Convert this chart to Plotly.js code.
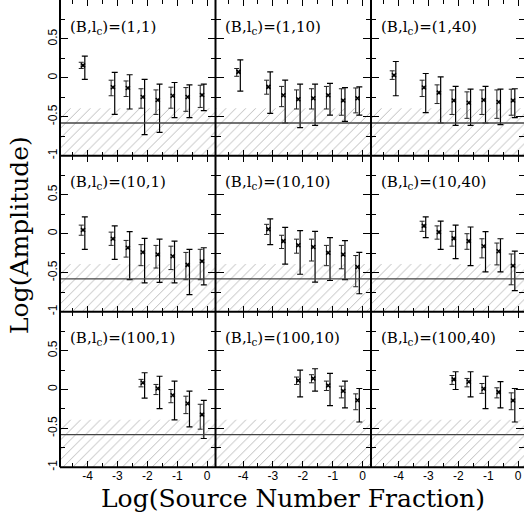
<!DOCTYPE html>
<html>
<head>
<meta charset="utf-8">
<script src="https://cdn.plot.ly/plotly-3.0.1.min.js"></script>
<style>
  html, body { margin: 0; padding: 0; background: #fff; }
  #chart { width: 524px; height: 527px; }
</style>
</head>
<body>
<div id="chart"></div>
<script>
// Log of the source-number fraction at which each amplitude was measured
const fracX = [-4.15, -3.15, -2.65, -2.15, -1.65, -1.15, -0.65, -0.17];

// Panel parameters (B, l_c), row by row
const bValues = [1, 10, 100];
const lcValues = [1, 10, 40];

// Detection floor: hatched band and the noise level line
const floorBand = [-1, -0.39];
const noiseLevel = -0.58;

// ---- (B,lc) = (1,1)
const b1l1Amp     = [0.16, -0.12, -0.13, -0.245, -0.285, -0.23, -0.245, -0.22];
const b1l1InnerHi = [0.20, -0.03, -0.04, -0.14, -0.155, -0.12, -0.125, -0.095];
const b1l1InnerLo = [0.12, -0.23, -0.24, -0.39, -0.47, -0.39, -0.43, -0.38];
const b1l1OuterHi = [0.28, 0.07, 0.04, -0.02, -0.08, -0.06, -0.09, -0.08];
const b1l1OuterLo = [-0.02, -0.47, -0.40, -0.73, -0.70, -0.51, -0.51, -0.42];

// ---- (B,lc) = (1,10)
const b1l10Amp     = [0.077, -0.116, -0.224, -0.275, -0.262, -0.224, -0.29, -0.262];
const b1l10InnerHi = [0.12, -0.03, -0.11, -0.155, -0.14, -0.11, -0.14, -0.13];
const b1l10InnerLo = [0.02, -0.21, -0.37, -0.40, -0.40, -0.40, -0.48, -0.45];
const b1l10OuterHi = [0.23, 0.077, -0.03, -0.08, -0.08, -0.07, -0.125, -0.116];
const b1l10OuterLo = [-0.17, -0.456, -0.58, -0.64, -0.61, -0.48, -0.56, -0.48];

// ---- (B,lc) = (1,40)
const b1l40Amp     = [0.034, -0.125, -0.19, -0.29, -0.32, -0.285, -0.31, -0.29];
const b1l40InnerHi = [0.09, -0.03, -0.09, -0.155, -0.18, -0.155, -0.155, -0.146];
const b1l40InnerLo = [-0.02, -0.24, -0.33, -0.47, -0.52, -0.47, -0.52, -0.48];
const b1l40OuterHi = [0.21, 0.056, 0.013, -0.11, -0.146, -0.11, -0.146, -0.14];
const b1l40OuterLo = [-0.23, -0.447, -0.58, -0.61, -0.61, -0.58, -0.60, -0.51];

// ---- (B,lc) = (10,1)
const b10l1Amp     = [0.047, -0.065, -0.18, -0.237, -0.267, -0.29, -0.40, -0.353];
const b10l1InnerHi = [0.11, 0.02, -0.086, -0.14, -0.15, -0.16, -0.24, -0.20];
const b10l1InnerLo = [-0.02, -0.15, -0.30, -0.41, -0.44, -0.46, -0.59, -0.59];
const b10l1OuterHi = [0.215, 0.10, 0.026, -0.06, -0.07, -0.095, -0.20, -0.18];
const b10l1OuterLo = [-0.20, -0.33, -0.59, -0.63, -0.625, -0.63, -0.78, -0.655];

// ---- (B,lc) = (10,10)
const b10l10Amp     = [0.056, -0.095, -0.147, -0.17, -0.245, -0.267, -0.427];
const b10l10InnerHi = [0.12, -0.02, -0.07, -0.07, -0.15, -0.15, -0.28];
const b10l10InnerLo = [-0.01, -0.19, -0.25, -0.35, -0.41, -0.45, -0.68];
const b10l10OuterHi = [0.19, 0.08, 0.04, 0.03, -0.05, -0.09, -0.24];
const b10l10OuterLo = [-0.14, -0.39, -0.52, -0.62, -0.60, -0.59, -0.77];

// ---- (B,lc) = (10,40)
const b10l40Amp     = [0.10, 0.02, -0.06, -0.095, -0.16, -0.224, -0.41];
const b10l40InnerHi = [0.16, 0.10, 0.03, 0.0, -0.065, -0.12, -0.26];
const b10l40InnerLo = [0.03, -0.07, -0.16, -0.20, -0.31, -0.40, -0.655];
const b10l40OuterHi = [0.215, 0.16, 0.11, 0.086, 0.026, -0.065, -0.224];
const b10l40OuterLo = [-0.05, -0.20, -0.32, -0.41, -0.49, -0.49, -0.73];

// ---- (B,lc) = (100,1)
const b100l1Amp     = [0.086, 0.013, -0.073, -0.18, -0.323];
const b100l1InnerHi = [0.13, 0.065, 0.0, -0.086, -0.19];
const b100l1InnerLo = [0.034, -0.065, -0.17, -0.31, -0.51];
const b100l1OuterHi = [0.215, 0.17, 0.108, -0.02, -0.14];
const b100l1OuterLo = [-0.11, -0.245, -0.39, -0.48, -0.63];

// ---- (B,lc) = (100,10)
const b100l10Amp     = [0.116, 0.142, 0.052, -0.02, -0.138];
const b100l10InnerHi = [0.16, 0.19, 0.108, 0.043, -0.056];
const b100l10InnerLo = [0.065, 0.086, -0.013, -0.108, -0.26];
const b100l10OuterHi = [0.25, 0.267, 0.207, 0.108, 0.013];
const b100l10OuterLo = [-0.095, -0.02, -0.207, -0.237, -0.418];

// ---- (B,lc) = (100,40)
const b100l40Amp     = [0.13, 0.10, 0.009, -0.034, -0.142];
const b100l40InnerHi = [0.18, 0.142, 0.077, 0.022, -0.043];
const b100l40InnerLo = [0.065, 0.034, -0.05, -0.108, -0.26];
const b100l40OuterHi = [0.228, 0.228, 0.17, 0.10, 0.013];
const b100l40OuterLo = [0.0, -0.095, -0.245, -0.237, -0.418];

// Tick labels
const xTickVals = [-4, -3, -2, -1, 0];
const xTickText = ['-4', '-3', '-2', '-1', '0'];
const xMinorVals = [-4.5, -3.5, -2.5, -1.5, -0.5];
const yTickValsTop = [-1, -0.5, 0, 0.5, 1];
const yTickTextTop = ['-1', '-0.5', '0', '0.5', '1'];
const yTickVals = [-1, -0.5, 0, 0.5];
const yTickText = ['-1', '-0.5', '0', '0.5'];
const yMinorVals = [-0.75, -0.25, 0.25, 0.75];

const panels = [
  [b1l1Amp, b1l1InnerHi, b1l1InnerLo, b1l1OuterHi, b1l1OuterLo],
  [b1l10Amp, b1l10InnerHi, b1l10InnerLo, b1l10OuterHi, b1l10OuterLo],
  [b1l40Amp, b1l40InnerHi, b1l40InnerLo, b1l40OuterHi, b1l40OuterLo],
  [b10l1Amp, b10l1InnerHi, b10l1InnerLo, b10l1OuterHi, b10l1OuterLo],
  [b10l10Amp, b10l10InnerHi, b10l10InnerLo, b10l10OuterHi, b10l10OuterLo],
  [b10l40Amp, b10l40InnerHi, b10l40InnerLo, b10l40OuterHi, b10l40OuterLo],
  [b100l1Amp, b100l1InnerHi, b100l1InnerLo, b100l1OuterHi, b100l1OuterLo],
  [b100l10Amp, b100l10InnerHi, b100l10InnerLo, b100l10OuterHi, b100l10OuterLo],
  [b100l40Amp, b100l40InnerHi, b100l40InnerLo, b100l40OuterHi, b100l40OuterLo]
];

// Grid geometry in pixels of the 524x527 figure
const W = 524, H = 527;
const colPx = [[60, 215.5], [215.5, 371], [371, 524]];
const rowPx = [[0, 155.7], [155.7, 311.7], [311.7, 467.3]];
const pxPerUnit = 29.9;
const xLeft = -4.92;

const tickFont = { family: 'Liberation Sans, Arial, sans-serif', size: 12, color: '#000' };
const serif = 'DejaVu Serif, serif';
const barOffset = 0.06;
const frameWidth = 2;

const traces = [];
const layout = {
  width: W, height: H,
  margin: { l: 0, r: 0, t: 0, b: 0 },
  paper_bgcolor: '#fff', plot_bgcolor: 'rgba(0,0,0,0)',
  showlegend: false, hovermode: false,
  shapes: [], annotations: []
};

panels.forEach((p, i) => {
  const [amp, inHi, inLo, outHi, outLo] = p;
  const r = Math.floor(i / 3), c = i % 3;
  const s = i === 0 ? '' : String(i + 1);
  const xa = 'x' + s, ya = 'y' + s;
  const xs = fracX.slice(fracX.length - amp.length);

  const colW = colPx[c][1] - colPx[c][0];
  layout['xaxis' + s] = {
    domain: [colPx[c][0] / W, colPx[c][1] / W],
    range: [xLeft, xLeft + colW / pxPerUnit],
    anchor: ya,
    tickmode: 'array', tickvals: xTickVals, ticktext: xTickText,
    ticks: 'inside', ticklen: 6, tickwidth: 1, tickcolor: '#000',
    minor: { tickmode: 'array', tickvals: xMinorVals, ticks: 'inside', ticklen: 4, tickwidth: 1, tickcolor: '#000', showgrid: false },
    showline: false, mirror: 'ticks',
    showgrid: false, zeroline: false,
    showticklabels: r === 2, tickfont: tickFont
  };
  layout['yaxis' + s] = {
    domain: [1 - rowPx[r][1] / H, 1 - rowPx[r][0] / H],
    range: [-1, 1],
    anchor: xa,
    tickmode: 'array',
    tickvals: r === 0 ? yTickValsTop : yTickVals,
    ticktext: r === 0 ? yTickTextTop : yTickText,
    tickangle: -90,
    ticks: 'inside', ticklen: 8, tickwidth: 1, tickcolor: '#000',
    minor: { tickmode: 'array', tickvals: yMinorVals, ticks: 'inside', ticklen: 5, tickwidth: 1, tickcolor: '#000', showgrid: false },
    showline: false, mirror: 'ticks',
    showgrid: false, zeroline: false,
    showticklabels: c === 0, tickfont: tickFont
  };

  // hatched floor band, clipped to the panel
  traces.push({
    type: 'scatter', mode: 'lines', xaxis: xa, yaxis: ya,
    x: [-10, 10, 10, -10, -10],
    y: [floorBand[0], floorBand[0], floorBand[1], floorBand[1], floorBand[0]],
    fill: 'toself', line: { width: 0 }, fillcolor: 'rgba(0,0,0,0)',
    fillpattern: { shape: '/', fgcolor: '#b0b0b0', bgcolor: 'rgba(255,255,255,0)', size: 7, solidity: 0.12 }
  });

  // inner (short) error bars
  traces.push({
    type: 'scatter', mode: 'markers', xaxis: xa, yaxis: ya,
    x: xs.map(v => v - barOffset), y: amp,
    marker: { size: 1, color: 'rgba(0,0,0,0)' },
    error_y: { type: 'data', symmetric: false,
      array: amp.map((v, k) => inHi[k] - v),
      arrayminus: amp.map((v, k) => v - inLo[k]),
      color: '#222', thickness: 1, width: 2.5 }
  });
  // outer (long) error bars
  traces.push({
    type: 'scatter', mode: 'markers', xaxis: xa, yaxis: ya,
    x: xs.map(v => v + barOffset), y: amp,
    marker: { size: 1, color: 'rgba(0,0,0,0)' },
    error_y: { type: 'data', symmetric: false,
      array: amp.map((v, k) => outHi[k] - v),
      arrayminus: amp.map((v, k) => v - outLo[k]),
      color: '#000', thickness: 1.2, width: 3 }
  });
  // amplitude markers
  traces.push({
    type: 'scatter', mode: 'markers', xaxis: xa, yaxis: ya,
    x: xs, y: amp,
    marker: { symbol: 'x-thin-open', size: 4, color: '#000', line: { width: 1.5, color: '#000' } }
  });

  layout.shapes.push({
    type: 'line', xref: xa + ' domain', yref: ya,
    x0: 0, x1: 1, y0: noiseLevel, y1: noiseLevel,
    line: { color: '#444', width: 1.3 }
  });

  layout.annotations.push({
    xref: xa + ' domain', yref: ya + ' domain',
    x: 0.05, y: 1 - 27 / 155.7, xanchor: 'left', yanchor: 'middle',
    showarrow: false,
    text: '(B,l<sub>c</sub>)=(' + bValues[r] + ',' + lcValues[c] + ')',
    font: { family: serif, size: 15, color: '#000' }
  });
});

// Panel frame: shared borders drawn once
const gridBottom = rowPx[2][1];
colPx.forEach(([x0]) => {
  layout.shapes.push({
    type: 'line', xref: 'paper', yref: 'paper',
    x0: x0 / W, x1: x0 / W, y0: 1 - gridBottom / H, y1: 1,
    line: { color: '#000', width: frameWidth }
  });
});
rowPx.forEach(([, y1]) => {
  layout.shapes.push({
    type: 'line', xref: 'paper', yref: 'paper',
    x0: colPx[0][0] / W, x1: 1, y0: 1 - y1 / H, y1: 1 - y1 / H,
    line: { color: '#000', width: frameWidth }
  });
});

layout.annotations.push({
  xref: 'paper', yref: 'paper', x: 293 / W, y: 1 - 498 / H,
  xanchor: 'center', yanchor: 'middle', showarrow: false,
  text: 'Log(Source Number Fraction)',
  font: { family: serif, size: 25, color: '#000' }
});
layout.annotations.push({
  xref: 'paper', yref: 'paper', x: 19 / W, y: 1 - 235 / H,
  xanchor: 'center', yanchor: 'middle', showarrow: false, textangle: -90,
  text: 'Log(Amplitude)',
  font: { family: serif, size: 25, color: '#000' }
});

Plotly.newPlot('chart', traces, layout, { staticPlot: true, displayModeBar: false });
</script>
</body>
</html>
